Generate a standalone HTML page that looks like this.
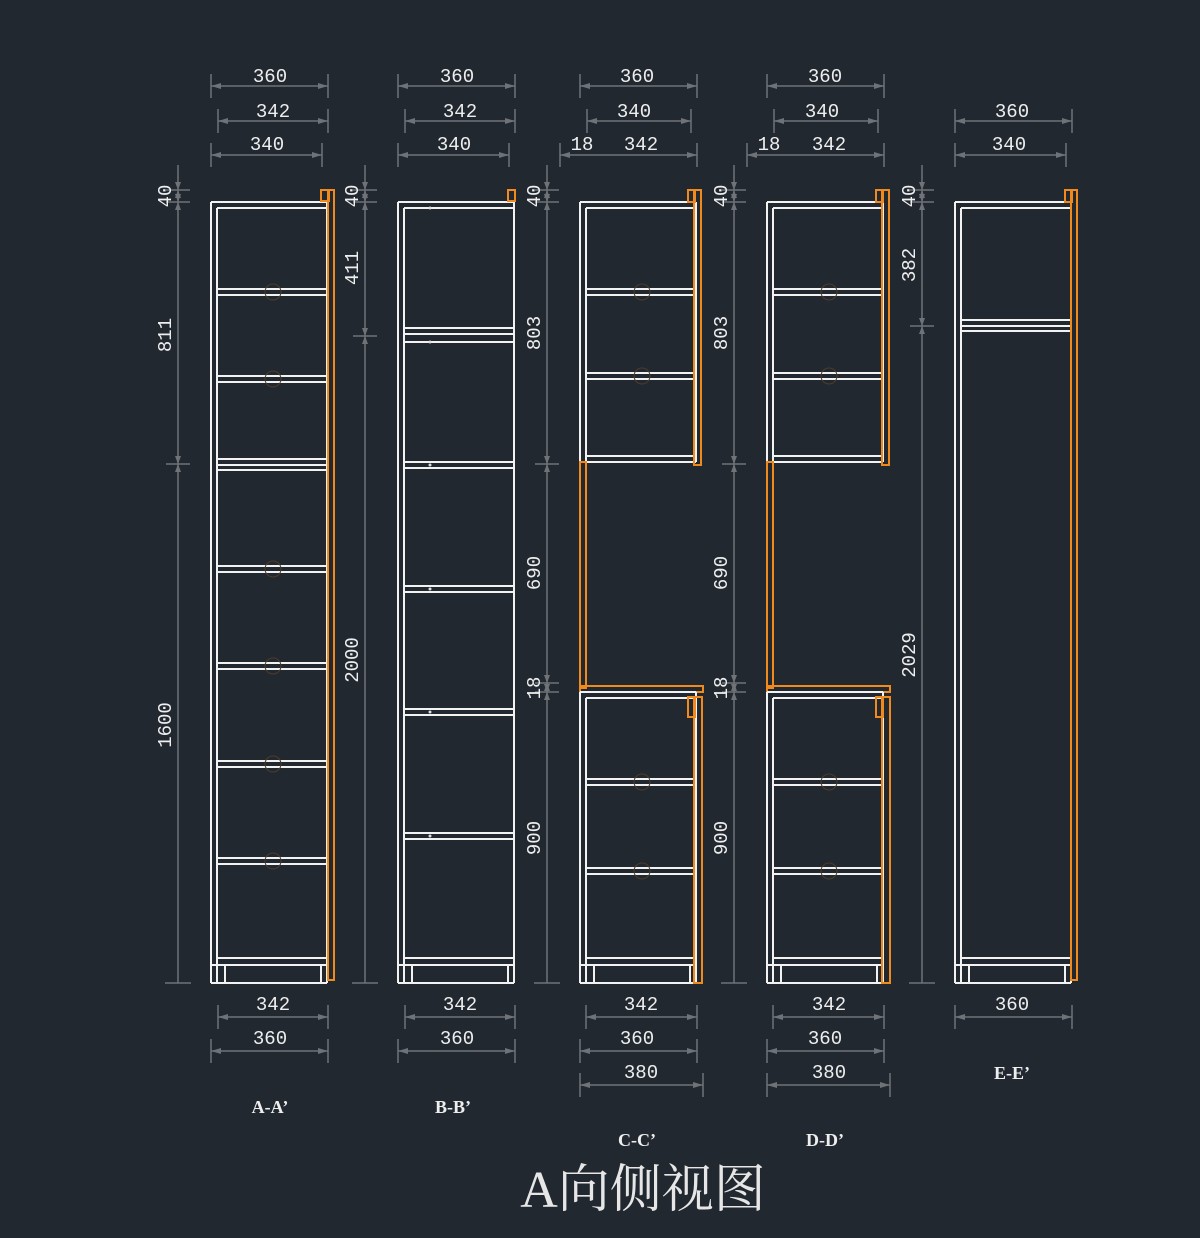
<!DOCTYPE html>
<html><head><meta charset="utf-8"><style>
html,body{margin:0;padding:0;background:#212830;}
svg{display:block}
text{font-family:"Liberation Mono","DejaVu Sans Mono",monospace;fill:#eee;font-size:19px;text-anchor:middle}
.t{font-family:"Liberation Serif","Noto Serif CJK SC",serif;font-size:52px;fill:#e6e6e6}
.l{font-family:"Liberation Serif",serif;font-size:18px;font-weight:bold}
</style></head><body>
<svg id="s" width="1200" height="1238" viewBox="0 0 1200 1238" xmlns="http://www.w3.org/2000/svg">
<rect width="1200" height="1238" fill="#212830"/>
<g id="g"></g>
<text x="270" y="82">360</text><text x="273" y="117">342</text><text x="267" y="150">340</text>
<text x="457" y="82">360</text><text x="460" y="117">342</text><text x="454" y="150">340</text>
<text x="637" y="82">360</text><text x="634" y="117">340</text><text x="582" y="150">18</text><text x="641" y="150">342</text>
<text x="825" y="82">360</text><text x="822" y="117">340</text><text x="769" y="150">18</text><text x="829" y="150">342</text>
<text x="1012" y="117">360</text><text x="1009" y="150">340</text>
<text x="273" y="1010">342</text><text x="270" y="1044">360</text>
<text x="460" y="1010">342</text><text x="457" y="1044">360</text>
<text x="641" y="1010">342</text><text x="637" y="1044">360</text><text x="641" y="1078">380</text>
<text x="829" y="1010">342</text><text x="825" y="1044">360</text><text x="829" y="1078">380</text>
<text x="1012" y="1010">360</text>
<g>
<text transform="translate(171,196) rotate(-90)">40</text>
<text transform="translate(171,335) rotate(-90)">811</text>
<text transform="translate(171,725) rotate(-90)">1600</text>
<text transform="translate(358,196) rotate(-90)">40</text>
<text transform="translate(358,268) rotate(-90)">411</text>
<text transform="translate(358,660) rotate(-90)">2000</text>
<text transform="translate(540,196) rotate(-90)">40</text>
<text transform="translate(540,333) rotate(-90)">803</text>
<text transform="translate(540,573) rotate(-90)">690</text>
<text transform="translate(540,688) rotate(-90)">18</text>
<text transform="translate(540,838) rotate(-90)">900</text>
<text transform="translate(727,196) rotate(-90)">40</text>
<text transform="translate(727,333) rotate(-90)">803</text>
<text transform="translate(727,573) rotate(-90)">690</text>
<text transform="translate(727,688) rotate(-90)">18</text>
<text transform="translate(727,838) rotate(-90)">900</text>
<text transform="translate(915,196) rotate(-90)">40</text>
<text transform="translate(915,265) rotate(-90)">382</text>
<text transform="translate(915,655) rotate(-90)">2029</text>
</g>
<text class="l" x="270" y="1113">A-A’</text>
<text class="l" x="453" y="1113">B-B’</text>
<text class="l" x="637" y="1146">C-C’</text>
<text class="l" x="825" y="1146">D-D’</text>
<text class="l" x="1012" y="1079">E-E’</text>
<text class="t" x="643" y="1207">A向侧视图</text>
</svg>
<script>
var g=document.getElementById('g'),h='';
function L(x1,y1,x2,y2,c,w){h+='<line x1="'+x1+'" y1="'+y1+'" x2="'+x2+'" y2="'+y2+'" stroke="'+c+'" stroke-width="'+(w||2)+'"/>';}
function R(x,y,w,hh,c,sw){h+='<rect x="'+x+'" y="'+y+'" width="'+w+'" height="'+hh+'" fill="none" stroke="'+c+'" stroke-width="'+(sw||2)+'"/>';}
var W='#f2f2f2',O='#f08a1c',G='#6f7378';
function shelf(x,y,m){L(x+6,y,x+116,y,W);L(x+6,y+6,x+116,y+6,W);
 if(m==1)h+='<circle cx="'+(x+62)+'" cy="'+(y+3)+'" r="8" fill="none" stroke="#4e3c2a" stroke-width="1"/>';
 else if(m==2)h+='<circle cx="'+(x+32)+'" cy="'+(y+3)+'" r="1.5" fill="#ddd"/>';}
function carcass(x,y1,y2,top,base){L(x,y1,x,y2,W);L(x+6,y1+6,x+6,y2,W);L(x+116,y1,x+116,y2,W);
 if(top){L(x,y1,x+116,y1,W);L(x+6,y1+6,x+116,y1+6,W);}
 if(base){L(x,983,x+116,983,W);L(x+6,958,x+116,958,W);L(x,965,x+116,965,W);L(x+14,965,x+14,983,W);L(x+110,965,x+110,983,W);}}
carcass(211,202,983,1,1);[289,376,566,663,761,858].forEach(function(y){shelf(211,y,1)});shelf(211,459,0);L(217,470,327,470,W);
R(328,190,6,790,O);R(321,190,8,11,O);
carcass(398,202,983,1,1);[462,586,709,833].forEach(function(y){shelf(398,y,2)});shelf(398,328,0);L(404,342,514,342,W);h+='<circle cx="430" cy="342" r="1.5" fill="#ddd"/><circle cx="430" cy="208" r="1.5" fill="#ddd"/>';
R(508,190,7,11,O);
[[580,694],[767,882]].forEach(function(p){var x=p[0],o=p[1];
 carcass(x,202,462,1,0);L(x,462,x+116,462,W);L(x+6,456,x+116,456,W);[289,373].forEach(function(y){shelf(x,y,1)});
 R(o,190,7,275,O);R(o-6,190,7,12,O);
 R(x,462,6,226,O);R(x,686,123,6,O);
 carcass(x,692,983,0,1);L(x,692,x+116,692,W);L(x+6,698,x+116,698,W);[779,868].forEach(function(y){shelf(x,y,1)});
 R(o,697,8,286,O);R(o-6,697,7,20,O);});
carcass(955,202,983,1,1);shelf(955,320,0);L(961,331,1071,331,W);R(1071,190,6,790,O);R(1065,190,7,12,O);
function vd(x,ts){L(x,165,x,983,G,1.5);L(x-13,983,x+13,983,G,1.5);ts.forEach(function(t){L(x-12,t,x+12,t,G,1.5);h+='<path d="M'+(x-3)+' '+(t-8)+'L'+x+' '+t+'L'+(x+3)+' '+(t-8)+'Z M'+(x-3)+' '+(t+8)+'L'+x+' '+t+'L'+(x+3)+' '+(t+8)+'Z" fill="'+G+'"/>';});}
vd(178,[190,202,464]);vd(365,[190,202,336]);vd(547,[190,202,464,683,692]);vd(734,[190,202,464,683,692]);vd(922,[190,202,326]);
function hd(x1,x2,y){L(x1,y,x2,y,G,1.5);L(x1,y-12,x1,y+12,G,1.5);L(x2,y-12,x2,y+12,G,1.5);
 h+='<path d="M'+(x1+10)+' '+(y-3)+'L'+x1+' '+y+'L'+(x1+10)+' '+(y+3)+'Z M'+(x2-10)+' '+(y-3)+'L'+x2+' '+y+'L'+(x2-10)+' '+(y+3)+'Z" fill="'+G+'"/>';}
[211,398].forEach(function(x){hd(x,x+117,86);hd(x+7,x+117,121);hd(x,x+111,155);hd(x+7,x+117,1017);hd(x,x+117,1051);});
[580,767].forEach(function(x){hd(x,x+117,86);hd(x+7,x+111,121);hd(x-20,x+117,155);hd(x+6,x+117,1017);hd(x,x+117,1051);hd(x,x+123,1085);});
hd(955,1072,121);hd(955,1066,155);hd(955,1072,1017);
g.innerHTML=h;
</script>
</body></html>
